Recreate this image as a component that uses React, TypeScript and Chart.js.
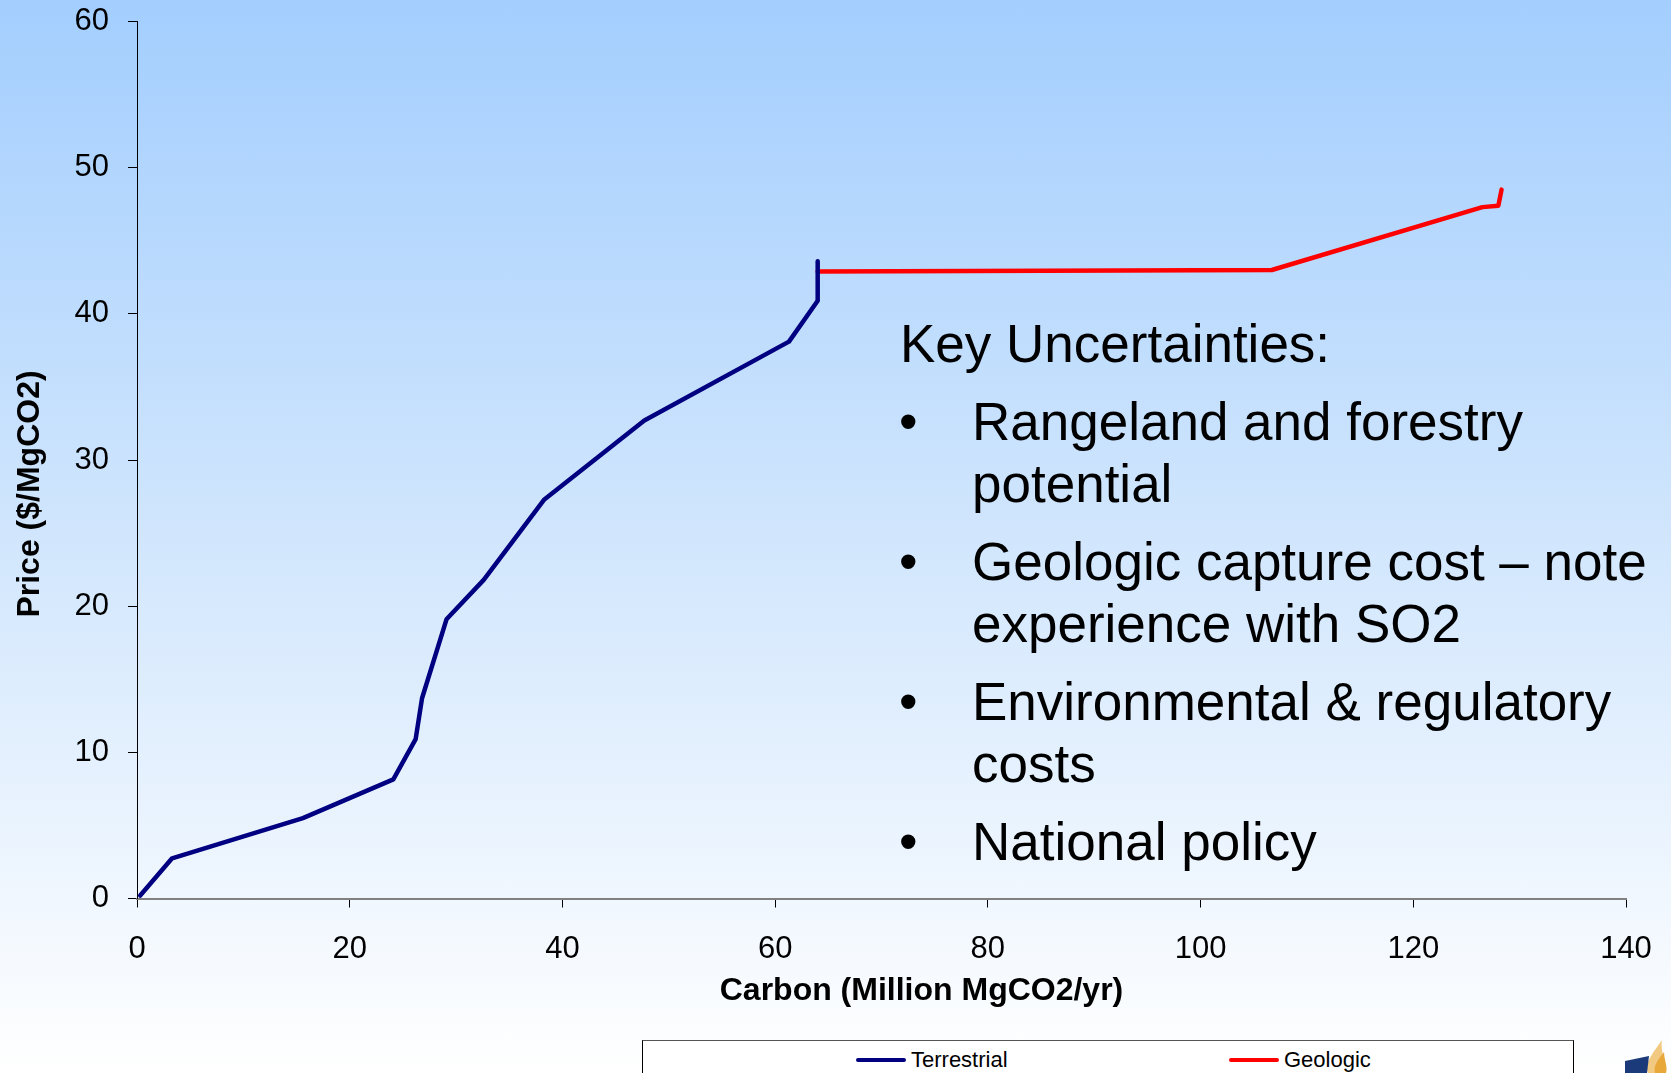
import React, { useEffect, useRef } from "react";
import { Chart, registerables } from "chart.js";

Chart.register(...registerables);

// ---- Data ----
const terrestrialX = [0.3, 3.3, 15.6, 24.1, 26.2, 26.8, 29.1, 32.6, 38.3, 47.7, 61.3, 64.0, 64.0];
const terrestrialY = [0.2, 2.75, 5.5, 8.15, 10.9, 13.7, 19.1, 21.8, 27.3, 32.7, 38.1, 40.9, 43.6];
const geologicX = [64.0, 106.7, 126.5, 128.0, 128.3];
const geologicY = [42.9, 43.0, 47.3, 47.4, 48.5];
const xTicks = [0, 20, 40, 60, 80, 100, 120, 140];
const yTicks = [0, 10, 20, 30, 40, 50, 60];
const seriesNames = ["Terrestrial", "Geologic"];
const seriesColors = ["#000080", "#FF0000"];
const xAxisTitle = "Carbon (Million MgCO2/yr)";
const yAxisTitle = "Price ($/MgCO2)";
const noteTitle = "Key Uncertainties:";
const noteItems = [
  ["Rangeland and forestry", "potential"],
  ["Geologic capture cost \u2013 note", "experience with SO2"],
  ["Environmental & regulatory", "costs"],
  ["National policy"],
];

const FONT = "'Liberation Sans', Arial, Helvetica, sans-serif";

const axisTitlePlugin = {
  id: "axisTitles",
  afterDraw(chart: any) {
    const { ctx, chartArea } = chart;
    ctx.save();
    ctx.fillStyle = "#000";
    ctx.font = `bold 32px ${FONT}`;
    ctx.textAlign = "center";
    ctx.textBaseline = "alphabetic";
    const cx = (chartArea.left + chartArea.right) / 2 + 40;
    ctx.fillText(xAxisTitle, cx, chartArea.bottom + 101);
    ctx.translate(39, (chartArea.top + chartArea.bottom) / 2 + 34);
    ctx.rotate(-Math.PI / 2);
    ctx.fillText(yAxisTitle, 0, 0);
    ctx.restore();
  },
};

export default function App() {
  const ref = useRef<HTMLCanvasElement | null>(null);

  useEffect(() => {
    if (!ref.current) return;
    const chart = new Chart(ref.current, {
      type: "scatter",
      data: {
        datasets: [
          {
            label: seriesNames[0],
            data: terrestrialX.map((x, i) => ({ x, y: terrestrialY[i] })),
            borderColor: seriesColors[0],
            backgroundColor: seriesColors[0],
            borderWidth: 4.5,
            pointRadius: 0,
            showLine: true,
            tension: 0,
            borderCapStyle: "round",
            borderJoinStyle: "round",
          },
          {
            label: seriesNames[1],
            data: geologicX.map((x, i) => ({ x, y: geologicY[i] })),
            borderColor: seriesColors[1],
            backgroundColor: seriesColors[1],
            borderWidth: 4.5,
            pointRadius: 0,
            showLine: true,
            tension: 0,
            borderCapStyle: "round",
            borderJoinStyle: "round",
          },
        ],
      },
      options: {
        responsive: false,
        maintainAspectRatio: false,
        animation: false,
        devicePixelRatio: 1,
        layout: { padding: { top: 21.5, right: 45, left: 0, bottom: 0 } },
        plugins: {
          legend: { display: false },
          tooltip: { enabled: false },
        },
        scales: {
          x: {
            type: "linear",
            min: 0,
            max: 140,
            afterBuildTicks: (s: any) => {
              s.ticks = xTicks.map((v) => ({ value: v }));
            },
            afterFit: (s: any) => {
              s.height = 174.5;
              s.paddingLeft = 0;
              s.paddingRight = 0;
            },
            ticks: {
              color: "#000",
              font: { family: FONT, size: 31 },
              padding: 23,
              maxRotation: 0,
              autoSkip: false,
            },
            grid: {
              display: true,
              drawOnChartArea: false,
              drawTicks: true,
              tickLength: 9,
              tickColor: "#000",
              tickWidth: 1,
            },
            border: { display: true, color: "#808080", width: 2 },
          },
          y: {
            type: "linear",
            min: 0,
            max: 60,
            afterBuildTicks: (s: any) => {
              s.ticks = yTicks.map((v) => ({ value: v }));
            },
            afterFit: (s: any) => {
              s.width = 137;
              s.paddingTop = 0;
              s.paddingBottom = 0;
            },
            ticks: {
              color: "#000",
              font: { family: FONT, size: 31 },
              padding: 19,
              autoSkip: false,
            },
            grid: {
              display: true,
              drawOnChartArea: false,
              drawTicks: true,
              tickLength: 9,
              tickColor: "#000",
              tickWidth: 1,
            },
            border: { display: true, color: "#000", width: 1 },
          },
        },
      },
      plugins: [axisTitlePlugin],
    } as any);
    return () => chart.destroy();
  }, []);

  const lineH = 62;
  const noteTop = 313;
  const itemGap = 16;
  const rows: { text: string; top: number; bullet: boolean }[] = [];
  let y = noteTop + lineH;
  noteItems.forEach((item) => {
    y += itemGap;
    item.forEach((t, j) => {
      rows.push({ text: t, top: y, bullet: j === 0 });
      y += lineH;
    });
  });

  const textStyle: React.CSSProperties = {
    position: "absolute",
    fontFamily: FONT,
    fontSize: 53,
    lineHeight: `${lineH}px`,
    height: lineH,
    whiteSpace: "nowrap",
    color: "#000",
  };

  return (
    <div
      style={{
        position: "absolute",
        left: 0,
        top: 0,
        width: 1671,
        height: 1073,
        overflow: "hidden",
        background: "linear-gradient(to bottom, #A3CEFE 0%, #D1E6FD 50%, #FFFFFF 100%)",
      }}
    >
      <canvas
        ref={ref}
        width={1671}
        height={1073}
        style={{ position: "absolute", left: 0, top: 0, width: 1671, height: 1073 }}
      />
      <div style={{ ...textStyle, left: 900, top: noteTop }}>{noteTitle}</div>
      {rows.map((r, i) => (
        <React.Fragment key={i}>
          {r.bullet && <div style={{ ...textStyle, left: 899, top: r.top }}>{"\u2022"}</div>}
          <div style={{ ...textStyle, left: 972, top: r.top }}>{r.text}</div>
        </React.Fragment>
      ))}
      {/* legend */}
      <div
        style={{
          position: "absolute",
          left: 642,
          top: 1040,
          width: 932,
          height: 60,
          background: "#FFFFFF",
          border: "1px solid #000",
          borderTopColor: "#555",
          boxSizing: "border-box",
        }}
      />
      {seriesNames.map((name, i) => {
        const lx = i === 0 ? 856 : 1229;
        return (
          <React.Fragment key={name}>
            <div
              style={{
                position: "absolute",
                left: lx,
                top: 1058,
                width: 50,
                height: 4,
                borderRadius: 2,
                background: seriesColors[i],
              }}
            />
            <div
              style={{
                position: "absolute",
                left: lx + 55,
                top: 1046,
                fontFamily: FONT,
                fontSize: 22,
                lineHeight: "28px",
                color: "#000",
                whiteSpace: "nowrap",
              }}
            >
              {name}
            </div>
          </React.Fragment>
        );
      })}
      {/* logo fragment */}
      <svg
        style={{ position: "absolute", left: 1622, top: 1036 }}
        width={49}
        height={37}
        viewBox="0 0 49 37"
      >
        <path d="M26 37 C22 28 30 18 40 4 C38 14 44 22 40 37 Z" fill="#F2C981" />
        <path d="M33 37 C31 30 36 24 42 16 C42 24 46 30 44 37 Z" fill="#E9A83A" />
        <polygon points="3,37 3,25 27,20 25,37" fill="#1B3A7A" />
      </svg>
    </div>
  );
}
